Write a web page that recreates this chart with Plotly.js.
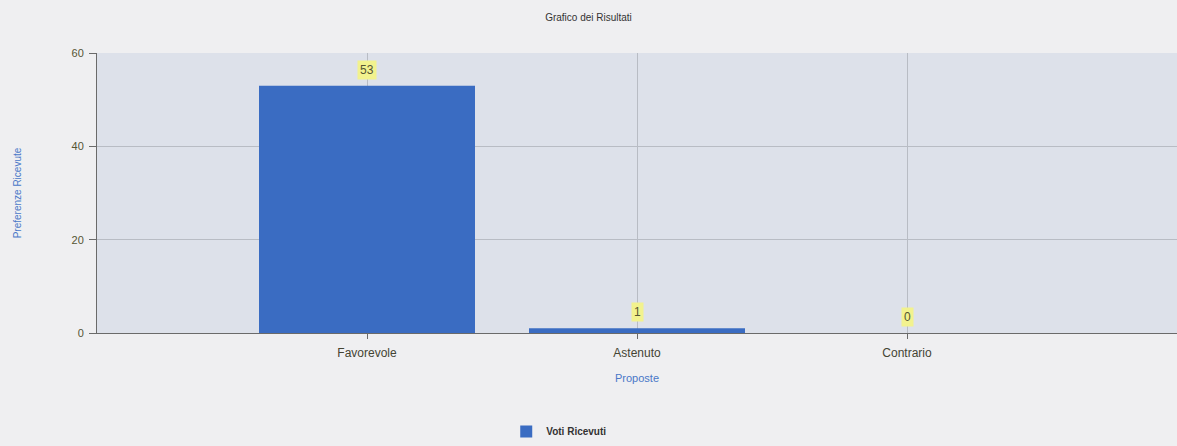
<!DOCTYPE html>
<html>
<head>
<meta charset="utf-8">
<script src="https://cdn.plot.ly/plotly-3.0.1.min.js"></script>
<style>
  html, body { margin: 0; padding: 0; background: #efeff1; }
  #chart { width: 1177px; height: 446px; }
</style>
</head>
<body>
<div id="chart"></div>
<script>
const categories = ['Favorevole', 'Astenuto', 'Contrario'];
const votes = [53, 1, 0];
const seriesName = 'Voti Ricevuti';

const trace = {
    type: 'bar',
    x: categories,
    y: votes,
    name: seriesName,
    width: 0.8,
    marker: { color: '#3a6cc2', line: { width: 0 } },
    hoverinfo: 'x+y'
};

// yellow value labels above each bar
const labels = categories.map((c, i) => ({
    x: c,
    y: votes[i],
    text: String(votes[i]),
    showarrow: false,
    yanchor: 'bottom',
    yshift: 6,
    bgcolor: '#f2f28e',
    borderpad: 2,
    font: { family: 'Liberation Sans, Arial, sans-serif', size: 12, color: '#555533' }
}));

const layout = {
    width: 1177,
    height: 446,
    paper_bgcolor: '#efeff1',
    plot_bgcolor: '#dde1ea',
    margin: { l: 97, r: 0, t: 53, b: 113 },
    font: { family: 'Liberation Sans, Arial, sans-serif', size: 11, color: '#444433' },
    title: {
        text: 'Grafico dei Risultati',
        x: 0.5, xanchor: 'center', y: 0.96, yanchor: 'middle',
        font: { size: 10, color: '#333333' }
    },
    xaxis: {
        type: 'category',
        range: [-1, 3],
        showgrid: true,
        gridcolor: '#b8bcc4',
        showline: true,
        linecolor: '#6a6a6a',
        ticks: 'outside',
        ticklen: 5,
        tickcolor: '#6a6a6a',
        ticklabelstandoff: 4,
        tickfont: { size: 12, color: '#444433' },
        title: { text: 'Proposte', font: { size: 11, color: '#4a78c8' }, standoff: 14 }
    },
    yaxis: {
        range: [0, 60],
        dtick: 20,
        showgrid: true,
        gridcolor: '#b8bcc4',
        showline: true,
        linecolor: '#6a6a6a',
        ticks: 'outside',
        ticklen: 7,
        tickcolor: '#6a6a6a',
        ticklabelstandoff: 3,
        zeroline: false,
        tickfont: { size: 11, color: '#555533' },
        title: { text: 'Preferenze Ricevute', font: { size: 10, color: '#4a78c8' }, standoff: 48 }
    },
    showlegend: true,
    legend: {
        orientation: 'h',
        x: 0.428, xanchor: 'center',
        y: -0.354, yanchor: 'middle',
        font: { size: 10, color: '#333333', weight: 'bold' },
        bgcolor: 'rgba(0,0,0,0)'
    },
    annotations: labels,
    bargap: 0.2
};

Plotly.newPlot('chart', [trace], layout, { displayModeBar: false, responsive: false });
</script>
</body>
</html>
